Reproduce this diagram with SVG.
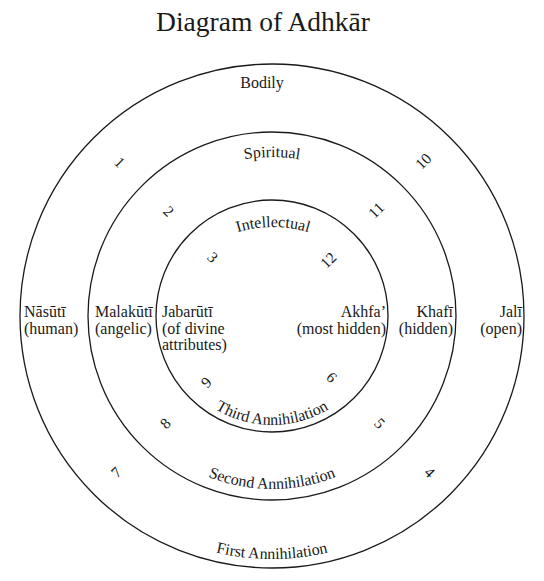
<svg xmlns="http://www.w3.org/2000/svg" width="544" height="581" viewBox="0 0 544 581">
<style>
text{font-family:"Liberation Serif","Times New Roman",serif;fill:#1a1a1a;font-size:16px}
.ring{fill:none;stroke:#1a1a1a;stroke-width:1.3}
.title{font-size:27.5px}
.mid{text-anchor:middle}
.end{text-anchor:end}
.num{text-anchor:middle;dominant-baseline:central;font-size:15.5px}
</style>
<defs>
<path id="pIntel" d="M153,347 A120,120 0 0 1 393,347"/>
<path id="pSpirit" d="M113,316 A159,159 0 0 1 431,316"/>
<path id="pThird" d="M163,316 A109,109 0 0 0 381,316"/>
<path id="pSecond" d="M99,316 A173,173 0 0 0 445,316"/>
<path id="pFirst" d="M29,316 A243,243 0 0 0 515,316"/>
</defs>
<rect width="544" height="581" fill="#fff"/>
<text id="title" class="title mid" x="263" y="31">Diagram of Adhkār</text>

<g id="ring-bodily">
<circle class="ring" cx="272" cy="316" r="252"/>
<text class="mid" x="262" y="88">Bodily</text>
<text x="24" y="317">Nāsūtī</text>
<text x="24" y="333.5">(human)</text>
<text class="end" x="522" y="317">Jalī</text>
<text class="end" x="522" y="333.5">(open)</text>
<text><textPath href="#pFirst" startOffset="50%" text-anchor="middle">First Annihilation</textPath></text>
<text class="num" transform="translate(120,162) rotate(45)">1</text>
<text class="num" transform="translate(423,161) rotate(-45)">10</text>
<text class="num" transform="translate(116,472) rotate(-45)">7</text>
<text class="num" transform="translate(430,472) rotate(45)">4</text>
</g>

<g id="ring-spiritual">
<circle class="ring" cx="272" cy="316" r="184"/>
<text><textPath href="#pSpirit" startOffset="50%" text-anchor="middle">Spiritual</textPath></text>
<text x="95" y="317">Malakūtī</text>
<text x="95" y="333.5">(angelic)</text>
<text class="end" x="453" y="317">Khafī</text>
<text class="end" x="453" y="333.5">(hidden)</text>
<text><textPath href="#pSecond" startOffset="50%" text-anchor="middle">Second Annihilation</textPath></text>
<text class="num" transform="translate(169,211) rotate(45)">2</text>
<text class="num" transform="translate(376,210) rotate(-45)">11</text>
<text class="num" transform="translate(165,423) rotate(-45)">8</text>
<text class="num" transform="translate(380,423) rotate(45)">5</text>
</g>

<g id="ring-intellectual">
<circle class="ring" cx="272" cy="316" r="116"/>
<text><textPath href="#pIntel" startOffset="50%" text-anchor="middle">Intellectual</textPath></text>
<text x="162" y="317">Jabarūtī</text>
<text x="162" y="333.5">(of divine</text>
<text x="162" y="350">attributes)</text>
<text class="end" x="386" y="317">Akhfa’</text>
<text class="end" x="386" y="333.5">(most hidden)</text>
<text><textPath href="#pThird" startOffset="50%" text-anchor="middle">Third Annihilation</textPath></text>
<text class="num" transform="translate(213,257) rotate(45)">3</text>
<text class="num" transform="translate(328,260) rotate(-45)">12</text>
<text class="num" transform="translate(206,382) rotate(-45)">9</text>
<text class="num" transform="translate(332,377) rotate(45)">6</text>
</g>

<g id="connectors"></g>
</svg>
